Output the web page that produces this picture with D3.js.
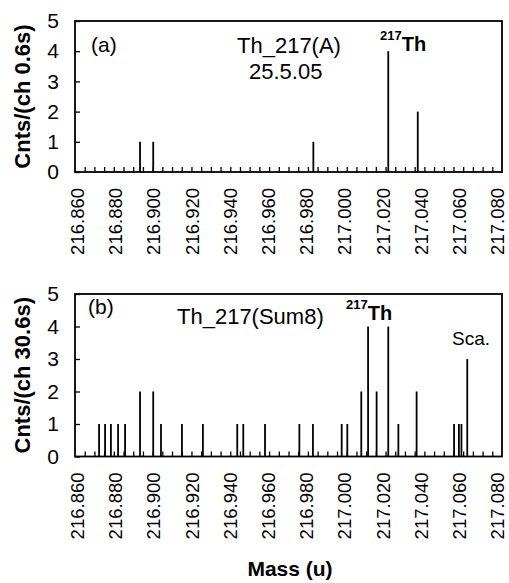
<!DOCTYPE html>
<html>
<head>
<meta charset="utf-8">
<script src="https://cdn.jsdelivr.net/npm/d3@7"></script>
<style>
  body { margin: 0; background: #fff; }
  svg { font-family: "Liberation Sans", Arial, sans-serif; }
</style>
</head>
<body>
<svg id="chart" width="509" height="583"></svg>
<script>
// peak positions (u) and counts
const massA = [216.8935, 216.9003, 216.9828, 217.0214, 217.0366]
const countsA = [1, 1, 1, 4, 2]

const massB = [216.8724, 216.8755, 216.8785, 216.8822, 216.8858, 216.8935, 216.9003, 216.9043,
               216.9151, 216.9259, 216.9436, 216.9467, 216.9579, 216.9756, 216.9826, 216.9974,
               217.0003, 217.0075, 217.0110, 217.0154, 217.0214, 217.0266, 217.0360, 217.0553,
               217.0578, 217.0591, 217.0621]
const countsB = [1, 1, 1, 1, 1, 2, 2, 1,
                 1, 1, 1, 1, 1, 1, 1, 1,
                 1, 2, 4, 2, 4, 1, 2, 1,
                 1, 1, 3]

const xTicks = [216.86, 216.88, 216.90, 216.92, 216.94, 216.96, 216.98, 217.00, 217.02, 217.04, 217.06, 217.08]
const yTicks = [0, 1, 2, 3, 4, 5]
const yLabels = ["Cnts/(ch 0.6s)", "Cnts/(ch 30.6s)"]

let svg = d3.select("#chart")

let x = d3.scaleLinear()
    .domain([216.86, 217.08])
    .range([75, 502])

// the printed labels sit a touch tighter than the ticks
let xLabels = x.copy().range([78, 498])

// minor ticks every 0.005 u, pointing into the plot
let minorTicks = d3.range(1, 44).map(i => 216.86 + i * 0.005)

function panel(top, bottom, mass, counts, yTitle) {
    let y = d3.scaleLinear().domain([0, 5]).range([bottom, top])
    let g = svg.append("g")

    // bars
    g.selectAll("line.bar")
        .data(mass)
        .enter().append("line")
        .attr("class", "bar")
        .attr("x1", d => x(d)).attr("x2", d => x(d))
        .attr("y1", y(0))
        .attr("y2", (d, i) => y(counts[i]))
        .attr("stroke", "#000")
        .attr("stroke-width", 1.8)

    // inward minor ticks on x
    let xMinor = g.append("g")
        .attr("transform", "translate(0," + bottom + ")")
        .call(d3.axisBottom(x).tickValues(minorTicks).tickSize(-5).tickFormat(""))
    xMinor.select(".domain").remove()
    xMinor.selectAll("line").attr("stroke-width", 1.3)

    // x labels, rotated
    let xLab = g.append("g")
        .attr("transform", "translate(0," + bottom + ")")
        .call(d3.axisBottom(xLabels).tickValues(xTicks).tickSize(0).tickFormat(d3.format(".3f")))
    xLab.select(".domain").remove()
    xLab.selectAll("text")
        .attr("transform", "rotate(-90)")
        .attr("text-anchor", "end")
        .attr("x", -16)
        .attr("y", 0)
        .attr("dy", "0.3em")
        .style("font-size", "18.5px")
        .style("font-family", "Liberation Sans, Arial, sans-serif")
        .attr("fill", "#000")

    // y axis with inward ticks
    let yAx = g.append("g")
        .attr("transform", "translate(" + x.range()[0] + ",0)")
        .call(d3.axisLeft(y).tickValues(yTicks).tickSize(-5).tickPadding(16).tickFormat(d3.format("d")))
    yAx.select(".domain").remove()
    yAx.selectAll("line").attr("stroke-width", 1.3)
    yAx.selectAll("text")
        .style("font-size", "21px")
        .style("font-family", "Liberation Sans, Arial, sans-serif")
        .attr("fill", "#000")

    // frame
    g.append("rect")
        .attr("x", x.range()[0]).attr("y", top)
        .attr("width", x.range()[1] - x.range()[0])
        .attr("height", bottom - top)
        .attr("fill", "none")
        .attr("stroke", "#000")
        .attr("stroke-width", 1.8)

    // y title
    g.append("text")
        .attr("transform", "translate(30," + (top + bottom) / 2 + ") rotate(-90)")
        .attr("text-anchor", "middle")
        .style("font-size", "22px")
        .style("font-weight", "bold")
        .text(yTitle)
    return g
}

let gA = panel(21, 172, massA, countsA, yLabels[0])
let gB = panel(294, 456.5, massB, countsB, yLabels[1])

// annotations, panel (a)
gA.append("text").attr("x", 91).attr("y", 52).style("font-size", "21px").text("(a)")
gA.append("text").attr("x", 237).attr("y", 53).style("font-size", "22px").text("Th_217(A)")
gA.append("text").attr("x", 249).attr("y", 79).style("font-size", "22px").text("25.5.05")
let labA = gA.append("text").attr("x", 380).attr("y", 51).style("font-weight", "bold")
labA.append("tspan").attr("dy", -11).style("font-size", "13px").text("217")
labA.append("tspan").attr("dy", 11).style("font-size", "20px").text("Th")

// annotations, panel (b)
gB.append("text").attr("x", 88).attr("y", 314).style("font-size", "21px").text("(b)")
gB.append("text").attr("x", 177).attr("y", 324).style("font-size", "22px").text("Th_217(Sum8)")
let labB = gB.append("text").attr("x", 346).attr("y", 320).style("font-weight", "bold")
labB.append("tspan").attr("dy", -11).style("font-size", "13px").text("217")
labB.append("tspan").attr("dy", 11).style("font-size", "20px").text("Th")
gB.append("text").attr("x", 452).attr("y", 345).style("font-size", "19px").text("Sca.")

// x title
svg.append("text")
    .attr("x", 290).attr("y", 576)
    .attr("text-anchor", "middle")
    .style("font-size", "21px")
    .style("font-weight", "bold")
    .text("Mass (u)")
</script>
</body>
</html>
